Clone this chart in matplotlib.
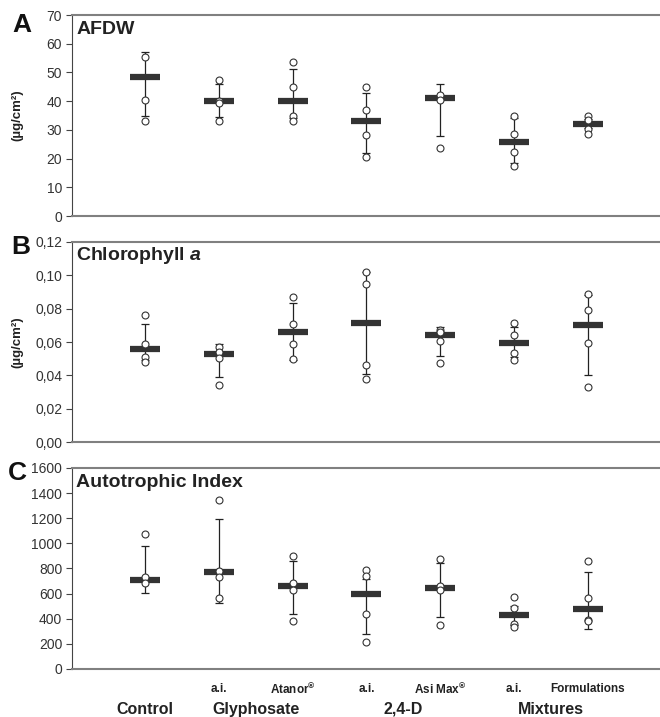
import numpy as np
import matplotlib
matplotlib.use("Agg")
import matplotlib.pyplot as plt
from matplotlib.ticker import FuncFormatter

plt.rcParams['font.family'] = ['Liberation Sans', 'DejaVu Sans']
plt.rcParams['mathtext.fontset'] = 'custom'
plt.rcParams['mathtext.it'] = 'Liberation Sans:italic:bold'
plt.rcParams['mathtext.rm'] = 'Liberation Sans:bold'

# treatments, left to right
treatments = ["Control", "Gly a.i.", "Atanor", "2,4-D a.i.", "Asi Max", "Mix a.i.", "Formulations"]
sub_labels = ["", "a.i.", "Atanor$^{\u00ae}$", "a.i.", "Asi Max$^{\u00ae}$", "a.i.", "Formulations"]
groups = ["Control", "Glyphosate", "2,4-D", "Mixtures"]
group_pos = [0, 1.5, 3.5, 5.5]

# A - AFDW (ug/cm2)
afdw_mean = [48.4, 40.2, 40.0, 33.1, 41.1, 25.8, 32.0]
afdw_low = [34.8, 34.5, 34.0, 22.0, 27.9, 18.5, 30.5]
afdw_high = [57.3, 46.0, 51.2, 43.0, 46.0, 34.0, 33.8]
afdw_pts = [[55.4, 40.5, 33.0],
            [47.5, 40.2, 39.5, 33.0],
            [53.5, 45.0, 35.0, 33.0],
            [45.0, 36.9, 28.2, 20.6],
            [42.2, 40.4, 23.7],
            [34.9, 28.6, 22.3, 17.5],
            [34.9, 33.4, 30.2, 28.6]]

# B - Chlorophyll a (ug/cm2)
chl_mean = [0.0558, 0.0528, 0.0660, 0.0716, 0.0644, 0.0596, 0.0700]
chl_low = [0.0490, 0.0392, 0.0490, 0.0410, 0.0516, 0.0510, 0.0404]
chl_high = [0.0708, 0.0588, 0.0832, 0.1020, 0.0692, 0.0690, 0.0880]
chl_pts = [[0.0760, 0.0588, 0.0512, 0.0478],
           [0.0568, 0.0540, 0.0506, 0.0342],
           [0.0872, 0.0708, 0.0588, 0.0500],
           [0.1020, 0.0946, 0.0462, 0.0378],
           [0.0672, 0.0660, 0.0606, 0.0472],
           [0.0712, 0.0640, 0.0536, 0.0494],
           [0.0886, 0.0792, 0.0594, 0.0330]]

# C - Autotrophic Index
ai_mean = [711, 769, 663, 597, 645, 427, 480]
ai_low = [605, 525, 438, 281, 411, 350, 321]
ai_high = [981, 1194, 862, 720, 844, 500, 769]
ai_pts = [[1077, 732, 684],
          [1348, 782, 732, 565],
          [897, 684, 631, 379],
          [790, 737, 440, 217],
          [878, 658, 631, 347],
          [570, 488, 361, 331],
          [857, 562, 393, 379]]

panels = [
    ("A", "AFDW", afdw_mean, afdw_low, afdw_high, afdw_pts, np.arange(0, 71, 10), lambda v, p: f"{v:.0f}", True),
    ("B", "Chlorophyll $a$", chl_mean, chl_low, chl_high, chl_pts, np.arange(0, 0.121, 0.02),
     lambda v, p: f"{v:.2f}".replace(".", ","), True),
    ("C", "Autotrophic Index", ai_mean, ai_low, ai_high, ai_pts, np.arange(0, 1601, 200), lambda v, p: f"{v:.0f}", False),
]

fig = plt.figure(figsize=(6.6, 7.17), dpi=100)
boxes = [[0.109, 0.6987, 0.89, 0.2803],
         [0.109, 0.3835, 0.89, 0.2790],
         [0.109, 0.0670, 0.89, 0.2803]]
letter_xy = [(0.033, 0.965), (0.031, 0.655), (0.027, 0.340)]

x = np.arange(len(treatments))
for (letter, title, mean, low, high, pts, yt, fmt, ylab), box, (lx, ly) in zip(panels, boxes, letter_xy):
    ax = fig.add_axes(box)
    mean = np.array(mean)
    yerr = [mean - np.array(low), np.array(high) - mean]
    ax.errorbar(x, mean, yerr=yerr, fmt="none", ecolor="#222222", elinewidth=0.9,
                capsize=3, capthick=0.9, zorder=2)
    ax.plot(x, mean, ls="none", marker="_", ms=22, mew=4.5, color="#333333", zorder=3)
    for i, p in enumerate(pts):
        ax.plot([x[i]] * len(p), p, ls="none", marker="o", ms=5, mfc="white",
                mec="#333333", mew=0.8, zorder=4)
    ax.set_xlim(-0.99, 6.97)
    ax.set_ylim(yt[0], yt[-1])
    ax.set_yticks(yt)
    ax.yaxis.set_major_formatter(FuncFormatter(fmt))
    ax.set_xticks([])
    ax.tick_params(axis="y", direction="out", length=4.5, width=0.8, color="#444444",
                   labelsize=10, labelcolor="#333333", pad=2.5)
    ax.spines["right"].set_visible(False)
    for s in ["top", "bottom"]:
        ax.spines[s].set_color("#808080")
        ax.spines[s].set_linewidth(1.5)
    ax.spines["left"].set_color("#444444")
    ax.spines["left"].set_linewidth(0.8)
    ax.text(0.007, 0.93, title, transform=ax.transAxes, ha="left", va="center",
            fontsize=14, fontweight="bold", color="#222222")
    if ylab:
        ax.set_ylabel("(\u00b5g/cm\u00b2)", fontsize=9.5, fontweight="bold", color="#222222", va="center")
        ax.yaxis.set_label_coords(-0.093, 0.5)
    fig.text(lx, ly, letter, ha="center", va="center", fontsize=19, fontweight="bold", color="#111111")

# category labels under panel C
trans = ax.get_xaxis_transform()
for i, s in enumerate(sub_labels):
    if s:
        ax.text(x[i], -0.10, s, transform=trans, ha="center", va="center",
                fontsize=8.5, fontweight="bold", color="#222222")
for g, gp in zip(groups, group_pos):
    ax.text(gp, -0.20, g, transform=trans, ha="center", va="center",
            fontsize=11.5, fontweight="bold", color="#222222")

fig.savefig("out.png", dpi=100)
